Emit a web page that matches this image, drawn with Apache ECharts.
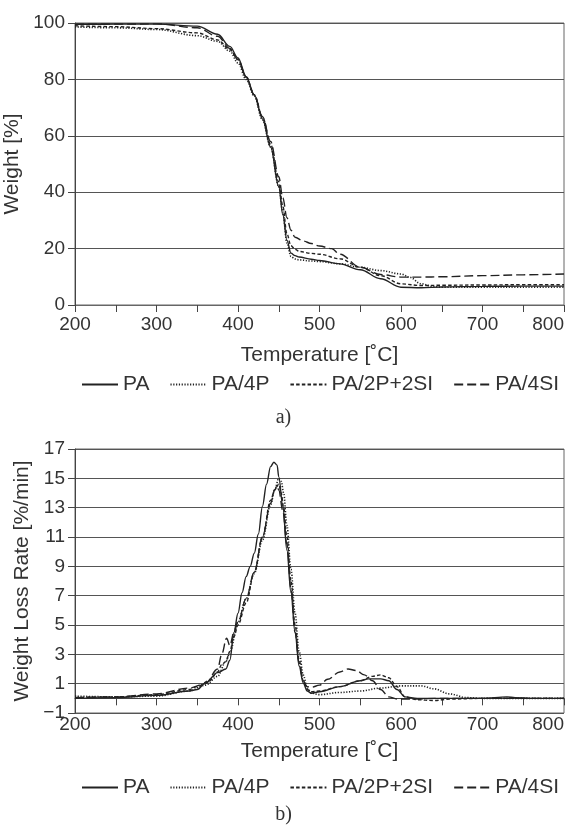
<!DOCTYPE html>
<html>
<head>
<meta charset="utf-8">
<script src="https://cdn.jsdelivr.net/npm/echarts@6/dist/echarts.min.js"></script>
<style>
html,body{margin:0;padding:0;background:#fff;}
#chart{width:567px;height:829px;}
</style>
</head>
<body>
<div id="chart"></div>
<script>
// ---------- data ----------
var seriesNames = ['PA', 'PA/4P', 'PA/2P+2SI', 'PA/4SI'];
var xTickLabels = ['200', '300', '400', '500', '600', '700', '800'];
var yTopLabels = ['0', '20', '40', '60', '80', '100'];
var yBottomLabels = ['−1', '1', '3', '5', '7', '9', '11', '13', '15', '17'];

// (a) TGA: weight [%] vs temperature [°C]
var tgaT_PA = [200,250,300,350,375,390,400,410,420,430,440,450,455,460,465,470,475,490,500,525,550,575,600,625,650,700,750,800];
var tgaW_PA = [99.5,99.6,99.6,98.9,96.0,91.7,87.6,81.0,74.5,66.0,56.0,42.0,32.0,23.0,18.4,17.5,17.0,16.2,15.8,14.6,12.5,9.3,6.3,6.1,6.4,6.6,6.7,6.7];

var tgaT_4P = [200,250,300,350,375,390,400,410,420,430,440,450,455,460,465,470,475,490,500,525,550,575,600,610,625,640,650,700,750,800];
var tgaW_4P = [98.6,98.3,97.7,95.5,93.5,90.0,85.8,80.0,74.0,65.6,56.0,42.0,33.0,22.0,17.2,16.3,16.0,15.6,15.4,14.6,13.4,12.2,11.0,9.9,7.5,6.5,6.3,6.3,6.3,6.3];

var tgaT_2P2SI = [200,250,300,350,375,390,400,410,420,430,440,450,455,460,465,470,475,490,500,525,550,575,600,625,650,700,750,800];
var tgaW_2P2SI = [99.0,98.7,98.0,96.5,94.0,90.6,87.0,81.0,74.5,66.8,57.0,43.7,35.0,25.3,21.0,19.8,19.0,18.3,18.0,16.4,13.4,10.4,7.5,6.9,7.0,7.1,7.2,7.2];

var tgaT_4SI = [200,250,300,350,375,390,400,410,420,430,440,450,455,460,465,470,480,490,500,515,525,550,575,600,625,650,700,750,800];
var tgaW_4SI = [99.5,99.6,99.7,98.3,95.3,91.0,87.0,80.8,74.5,66.8,58.0,45.5,38.0,31.0,26.5,24.0,22.7,21.8,20.9,20.0,18.0,13.4,10.8,9.9,9.9,10.0,10.4,10.7,11.0];

// (b) DTG: weight loss rate [%/min] vs temperature [°C]
var dtgT_PA = [200,250,300,340,350,360,375,385,390,395,400,405,410,415,420,425,430,435,440,444,448,450,455,460,465,470,475,480,485,490,500,525,550,560,575,585,595,605,620,700,730,740,760,800];
var dtgV_PA = [0.0,0.05,0.2,0.5,0.6,1.05,1.75,2.0,2.6,4.5,5.8,7.2,8.3,9.0,9.9,11.2,13.1,14.6,15.8,16.1,15.9,15.1,13.1,10.1,7.2,4.5,2.2,1.05,0.5,0.35,0.45,0.8,1.2,1.33,1.33,1.2,0.6,0.1,0.0,0.0,0.1,0.05,0.0,0.0];

var dtgT_4P = [200,250,300,340,360,375,385,390,400,410,420,430,440,445,450,453,456,460,465,470,475,480,485,490,500,525,550,575,600,625,640,660,680,700,800];
var dtgV_4P = [0.15,0.1,0.15,0.5,0.9,1.5,2.5,3.1,5.2,6.8,8.5,10.8,13.2,14.2,15.0,14.8,14.0,11.8,8.8,5.8,3.2,1.6,0.7,0.35,0.25,0.4,0.5,0.7,0.85,0.85,0.65,0.3,0.05,0.0,0.0];

var dtgT_2P2SI = [200,250,300,340,350,365,375,380,385,390,395,400,410,420,430,440,445,450,453,456,460,465,470,475,480,485,490,500,525,550,565,575,585,595,605,620,640,660,700,800];
var dtgV_2P2SI = [0.05,0.1,0.25,0.6,0.8,1.2,1.8,2.3,2.5,3.2,4.2,5.0,6.5,8.6,11.0,13.5,14.2,14.6,14.0,13.0,11.0,8.0,5.0,2.6,1.2,0.6,0.45,0.5,0.8,1.2,1.5,1.6,1.4,0.8,0.1,-0.1,-0.15,-0.05,0.0,0.0];

var dtgT_4SI = [200,250,300,340,360,375,380,386,390,395,400,410,420,430,440,445,448,450,455,460,465,470,475,480,485,490,500,510,525,535,545,555,565,575,585,595,610,650,800];
var dtgV_4SI = [0.05,0.1,0.3,0.7,1.0,2.0,3.0,4.1,3.6,4.5,5.2,6.8,8.6,11.0,13.3,14.2,14.5,14.2,12.8,10.5,7.5,4.5,2.4,1.2,0.8,0.75,0.9,1.3,1.8,2.0,1.9,1.6,1.2,0.6,0.1,-0.05,-0.05,0.0,0.0];

// ---------- chart ----------
function pairs(xs, ys) { return xs.map(function (x, i) { return [x, ys[i]]; }); }

var FONT = 'Liberation Sans, Arial, sans-serif';
var TXT = '#333';
var LINE = '#222';
var GRIDC = '#555';
var FS = 19;
var FS_NAME = 21;
var FS_LEG = 21;

var styles = [
  { type: 'solid', width: 1.4 },
  { type: [1.2, 1.6], width: 1.6 },
  { type: [3.5, 2.2], width: 1.4 },
  { type: [9, 4], width: 1.4 }
];

var tga = [pairs(tgaT_PA, tgaW_PA), pairs(tgaT_4P, tgaW_4P), pairs(tgaT_2P2SI, tgaW_2P2SI), pairs(tgaT_4SI, tgaW_4SI)];
var dtg = [pairs(dtgT_PA, dtgV_PA), pairs(dtgT_4P, dtgV_4P), pairs(dtgT_2P2SI, dtgV_2P2SI), pairs(dtgT_4SI, dtgV_4SI)];

var series = [];
seriesNames.forEach(function (n, i) {
  series.push({
    name: n, type: 'line', xAxisIndex: 0, yAxisIndex: 0, data: tga[i],
    symbol: 'none', smooth: 0.35, smoothMonotone: 'x',
    lineStyle: { color: LINE, width: styles[i].width, type: styles[i].type },
    itemStyle: { color: LINE }, z: 4 - i
  });
});
seriesNames.forEach(function (n, i) {
  series.push({
    name: n, type: 'line', xAxisIndex: 2, yAxisIndex: 1, data: dtg[i],
    symbol: 'none', smooth: 0.35, smoothMonotone: 'x',
    lineStyle: { color: LINE, width: styles[i].width, type: styles[i].type },
    itemStyle: { color: LINE }, z: 4 - i
  });
});

function xLabelFmt(v) {
  var s = String(v);
  return xTickLabels.indexOf(s) >= 0 ? s : '';
}

var axisLabelBase = { color: TXT, fontFamily: FONT, fontSize: FS };
var nameStyle = { color: TXT, fontFamily: FONT, fontSize: FS_NAME };

function legendAt(top) {
  return {
    top: top, left: 76, itemWidth: 36, itemHeight: 10, itemGap: 20,
    data: seriesNames, selectedMode: false,
    itemStyle: { opacity: 0 },
    textStyle: { color: TXT, fontFamily: FONT, fontSize: FS_LEG }
  };
}

var option = {
  animation: false,
  backgroundColor: '#fff',
  textStyle: { fontFamily: FONT },
  grid: [
    { left: 75, top: 23, right: 3, height: 282, show: true, borderColor: '#666', borderWidth: 1, containLabel: false, outerBoundsMode: 'none' },
    { left: 75, top: 449, right: 3, height: 264, show: true, borderColor: '#666', borderWidth: 1, containLabel: false, outerBoundsMode: 'none' }
  ],
  xAxis: [
    { // top chart
      type: 'value', gridIndex: 0, min: 200, max: 800, interval: 50,
      name: 'Temperature [˚C]', nameLocation: 'middle', nameGap: 40,
      nameTextStyle: nameStyle,
      axisLine: { show: true, lineStyle: { color: '#666', width: 1 } },
      axisTick: { show: true, inside: false, length: 7, lineStyle: { color: '#444' } },
      axisLabel: Object.assign({ margin: 10, formatter: xLabelFmt, alignMaxLabel: 'right' }, axisLabelBase),
      splitLine: { show: false }
    },
    { // bottom chart labels at frame bottom
      type: 'value', gridIndex: 1, min: 200, max: 800, interval: 50, position: 'bottom',
      name: 'Temperature [˚C]', nameLocation: 'middle', nameGap: 28,
      nameTextStyle: nameStyle,
      axisLine: { show: false, onZero: false },
      axisTick: { show: false },
      axisLabel: Object.assign({ margin: 2, formatter: xLabelFmt, alignMaxLabel: 'right' }, axisLabelBase),
      splitLine: { show: false }
    },
    { // bottom chart axis line at zero with ticks
      type: 'value', gridIndex: 1, min: 200, max: 800, interval: 50, position: 'bottom',
      axisLine: { show: true, onZero: true, onZeroAxisIndex: 1, lineStyle: { color: '#444', width: 1 } },
      axisTick: { show: true, inside: false, length: 7, lineStyle: { color: '#444' } },
      axisLabel: { show: false },
      splitLine: { show: false }
    }
  ],
  yAxis: [
    { // top chart
      type: 'value', gridIndex: 0, min: 0, max: 100, interval: 20,
      name: 'Weight [%]', nameLocation: 'middle', nameGap: 42,
      nameTextStyle: nameStyle,
      axisLine: { show: true, lineStyle: { color: '#444' } },
      axisTick: { show: true, length: 7, lineStyle: { color: '#444' } },
      axisLabel: Object.assign({ margin: 10, formatter: function (v) { return yTopLabels[Math.round(v / 20)]; } }, axisLabelBase),
      splitLine: { show: true, lineStyle: { color: GRIDC, width: 1 } }
    },
    { // bottom chart data axis (-1..17)
      type: 'value', gridIndex: 1, min: -1, max: 17, position: 'left',
      axisLine: { show: false }, axisTick: { show: false }, axisLabel: { show: false },
      splitLine: { show: false }
    },
    { // bottom chart gridline/label axis, same scale shifted by +1 so ticks fall on odd values
      type: 'value', gridIndex: 1, min: 0, max: 18, interval: 2, position: 'left',
      name: 'Weight Loss Rate [%/min]', nameLocation: 'middle', nameGap: 42,
      nameTextStyle: nameStyle,
      axisLine: { show: true, onZero: false, lineStyle: { color: '#444' } },
      axisTick: { show: true, length: 7, lineStyle: { color: '#444' } },
      axisLabel: Object.assign({ margin: 10, formatter: function (v) { return yBottomLabels[Math.round(v / 2)]; } }, axisLabelBase),
      splitLine: { show: true, lineStyle: { color: GRIDC, width: 1 } }
    }
  ],
  legend: [legendAt(369), legendAt(772)],
  title: [
    { text: 'a)', left: 'center', top: 403, textStyle: { fontFamily: 'Liberation Serif, Times New Roman, serif', fontWeight: 'normal', fontSize: 20, color: TXT } },
    { text: 'b)', left: 'center', top: 800, textStyle: { fontFamily: 'Liberation Serif, Times New Roman, serif', fontWeight: 'normal', fontSize: 20, color: TXT } }
  ],
  series: series
};

var chart = echarts.init(document.getElementById('chart'), null, { renderer: 'canvas' });
chart.setOption(option);
</script>
</body>
</html>
